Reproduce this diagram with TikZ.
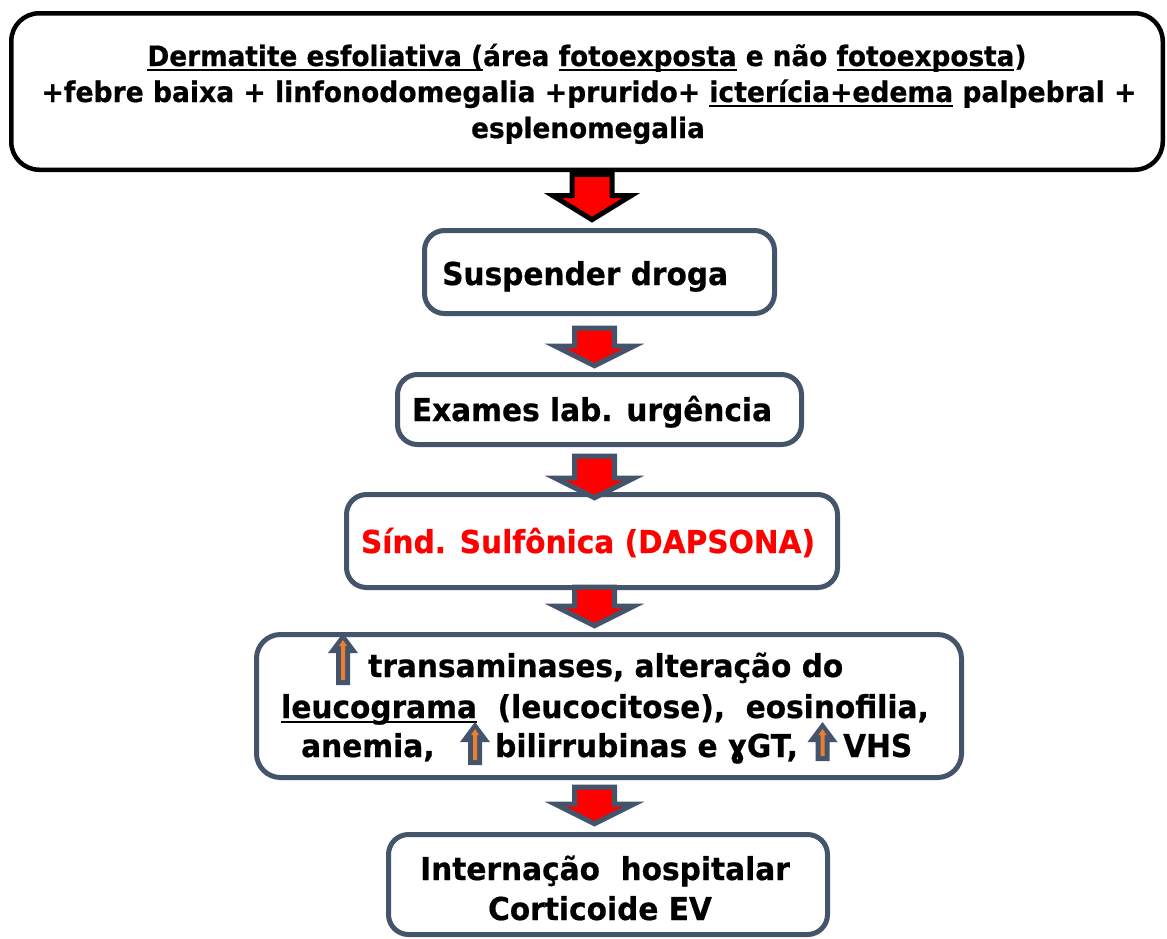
\documentclass[tikz,border=0pt]{standalone}
\usepackage{fontspec}
\usetikzlibrary{calc}
\newfontfamily\bx{DejaVu Sans}[FakeStretch=0.94,BoldFeatures={FakeStretch=0.94,FakeBold=0.6}]
\definecolor{slate}{HTML}{44546A}
\definecolor{aorange}{HTML}{ED7D31}
\newcommand\ulx[1]{\setbox0\hbox{#1}\rlap{\rule[-4.5pt]{\wd0}{2pt}}\box0\relax}
\tikzset{
  box/.style={draw=slate, line width=5pt, rounded corners=20pt, fill=white, inner sep=0pt},
  topbox/.style={draw=black, line width=4.5pt, rounded corners=28pt, fill=white, inner sep=0pt},
  txt/.style={font=\bx\bfseries\fontsize{31.5}{36}\selectfont, inner sep=0pt, anchor=base},
  ttxt/.style={font=\bx\bfseries\fontsize{28}{32}\selectfont, inner sep=0pt, anchor=base},
  slatearrow/.style={fill=red, draw=slate, line width=5pt, line join=miter},
  blackarrow/.style={fill=red, draw=black, line width=5pt, line join=miter},
}
% block arrow: #1 style, #2 start point, #3 tip point, #4 head length
\newcommand\blockarr[4]{%
  \draw[#1] let \p1=#2, \p2=#3 in
    (\x1-20pt,\y1) -- (\x1+20pt,\y1) -- (\x1+20pt,\y2+#4) -- (\x1+39pt,\y2+#4)
    -- (\x1,\y2) -- (\x1-39pt,\y2+#4) -- (\x1-20pt,\y2+#4) -- cycle;}
% small up arrow: #1 centre x, #2 top y, #3 bottom y
\newcommand\smallup[3]{%
  \fill[slate] (#1-7,#3) -- (#1-7,#2+20) -- (#1-15,#2+20) -- (#1,#2) -- (#1+15,#2+20) -- (#1+7,#2+20) -- (#1+7,#3) -- cycle;
  \fill[aorange] (#1-2,#3-5) -- (#1-2,#2+13) -- (#1-4,#2+13) -- (#1,#2+7) -- (#1+4,#2+13) -- (#1+2,#2+13) -- (#1+2,#3-5) -- cycle;}
\begin{document}
\begin{tikzpicture}[x=1pt,y=-1pt]
\fill[white] (0,0) rectangle (1167,938);
\useasboundingbox (0,0) rectangle (1167,938);
\coordinate (ax1) at (592,0);
\coordinate (ax) at (594.5,0);

% boxes
\node[topbox, minimum width=1151.5pt, minimum height=156.5pt] (b1) at (587,91.5) {};
\node[box, minimum width=350pt, minimum height=83pt] (b2) at (599.5,272) {};
\node[box, minimum width=404pt, minimum height=70pt] (b3) at (599.5,409.5) {};
\node[box, minimum width=491pt, minimum height=93pt] (b4) at (592,541) {};
\node[box, minimum width=705pt, minimum height=143pt, rounded corners=24pt] (b5) at (609,706) {};
\node[box, minimum width=439pt, minimum height=100pt] (b6) at (608,884.5) {};

% texts
\node[ttxt] (t1a) at (587,66) {\ulx{Dermatite esfoliativa (}área \ulx{fotoexposta} e não \ulx{fotoexposta})};
\node[ttxt, font=\bx\bfseries\fontsize{28.3}{32}\selectfont] (t1b) at (589,102) {+febre baixa + linfonodomegalia +prurido+ \ulx{icterícia+edema} palpebral +};
\node[ttxt] (t1c) at (588,138) {esplenomegalia};
\node[txt, anchor=base west] (t2) at (442,285) {Suspender droga};
\node[txt] (t3) at (592,421) {Exames lab. urgência};
\node[txt, text=red] (t4) at (588,553) {Sínd. Sulfônica (DAPSONA)};
\node[txt, anchor=base west] (t5a) at (368,677) {transaminases, alteração do};
\node[txt, anchor=base west] (t5b) at (281,718) {\ulx{leucograma}~ (leucocitose),~ eosinofilia,};
\node[txt, anchor=base west] (t5c) at (301,757) {anemia,};
\node[txt, anchor=base west] (t5d) at (495,757) {bilirrubinas e ɣGT,};
\node[txt, anchor=base west] (t5e) at (843,757) {VHS};
\node[txt] (t6a) at (605,880) {Internação~ hospitalar};
\node[txt] (t6b) at (600,920) {Corticoide EV};

% small up arrows
\smallup{343}{633}{685}
\smallup{475}{722}{765}
\smallup{822.5}{722}{761}

% block arrows
\blockarr{blackarrow}{($(b1.south -| ax1)+(0,2.25)$)}{($(b2.north -| ax1)+(0,-8.3)$)}{24pt}
\blockarr{slatearrow}{($(b2.south -| ax)+(0,12)$)}{($(b3.north -| ax)+(0,-6.3)$)}{19.5pt}
\blockarr{slatearrow}{($(b3.south -| ax)+(0,9)$)}{($(b4.north -| ax)+(0,5.7)$)}{19.5pt}
\blockarr{slatearrow}{($(b4.south -| ax)+(0,-3)$)}{($(b5.north -| ax)+(0,-6.3)$)}{19.5pt}
\blockarr{slatearrow}{($(b5.south -| ax)+(0,7)$)}{($(b6.north -| ax)+(0,-8.3)$)}{19.5pt}
\end{tikzpicture}
\end{document}
